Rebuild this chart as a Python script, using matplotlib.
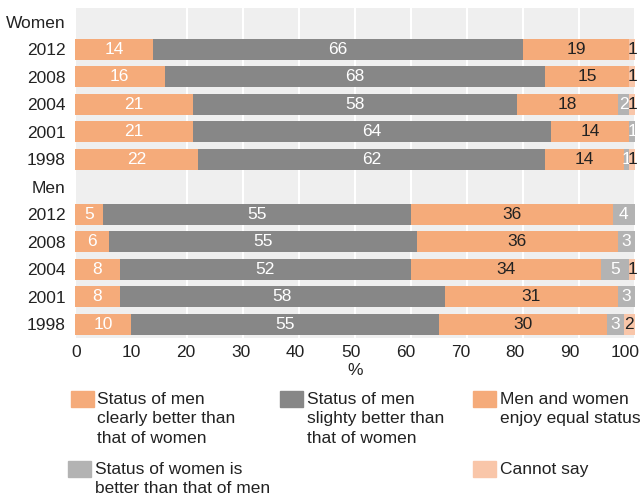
import matplotlib
matplotlib.use("Agg")
import matplotlib.pyplot as plt
from matplotlib.patches import Rectangle
import numpy as np

plt.rcParams['font.family'] = ['Liberation Sans', 'DejaVu Sans']

row_labels = ["Women", "2012", "2008", "2004", "2001", "1998",
              "Men", "2012", "2008", "2004", "2001", "1998"]
# None = header row (no bar)
clearly_better = [None, 14, 16, 21, 21, 22, None, 5, 6, 8, 8, 10]
slightly_better = [None, 66, 68, 58, 64, 62, None, 55, 55, 52, 58, 55]
equal_status = [None, 19, 15, 18, 14, 14, None, 36, 36, 34, 31, 30]
women_better = [None, 0, 0, 2, 1, 1, None, 4, 3, 5, 3, 3]
cannot_say = [None, 1, 1, 1, 0, 1, None, 0, 0, 1, 0, 2]
x_ticks = list(range(0, 101, 10))

series = [clearly_better, slightly_better, equal_status, women_better, cannot_say]
series_names = ["Status of men\nclearly better than\nthat of women",
                "Status of men\nslighty better than\nthat of women",
                "Men and women\nenjoy equal status",
                "Status of women is\nbetter than that of men",
                "Cannot say"]
colors = ["#f5ab7a", "#878787", "#f5ab7a", "#b3b3b3", "#f9c6a9"]
text_colors = ["white", "white", "#222222", "white", "#222222"]

FS = 12.5
W, H = 642, 495
fig = plt.figure(figsize=(W / 100, H / 100), dpi=100)
ax = fig.add_axes([75 / W, 1 - 338 / H, (635 - 75) / W, (338 - 8) / H])
ax.set_facecolor("#efefef")
for s in ax.spines.values():
    s.set_visible(False)

n = len(row_labels)
y = np.arange(n)
left = np.zeros(n)
for vals, c, tc in zip(series, colors, text_colors):
    for i, v in enumerate(vals):
        if v is None:
            continue
        if v > 0:
            ax.barh(y[i], v, left=left[i], height=0.78, color=c, zorder=3)
            ax.text(left[i] + v / 2, y[i], str(v), ha="center", va="center",
                    color=tc, fontsize=FS, zorder=4)
        left[i] += v

ax.set_xlim(0, 100)
ax.set_ylim(n - 0.5, -0.5)
ax.set_yticks(y)
ax.set_yticklabels(row_labels, fontsize=FS, color="#222222")
# gridlines at the true tick values (minor ticks), labels placed as in the source
ax.set_xticks(x_ticks, minor=True)
label_pos = [t * 0.98 + 0.2 for t in x_ticks]
ax.set_xticks(label_pos)
ax.set_xticklabels([str(t) for t in x_ticks], fontsize=FS, color="#222222")
ax.tick_params(which="both", length=0, pad=5)
ax.tick_params(axis="y", pad=7)
ax.grid(False)
ax.grid(axis="x", which="minor", color="white", linewidth=1.5, zorder=1)
ax.set_axisbelow(True)
ax.set_xlabel("%", fontsize=FS, color="#222222", labelpad=2)

# legend
legend_pos = [(71, 391, 97), (280, 391, 307), (473, 391, 500), (68, 461, 95), (473, 461, 500)]
for (px, py, tx), name, c in zip(legend_pos, series_names, colors):
    fig.add_artist(Rectangle((px / W, 1 - (py + 16) / H), 23 / W, 16 / H,
                             transform=fig.transFigure, color=c))
    fig.text(tx / W, 1 - (py + 1) / H, name, ha="left", va="top", fontsize=FS,
             color="#222222", linespacing=1.36)

fig.savefig("out.png", dpi=100)
